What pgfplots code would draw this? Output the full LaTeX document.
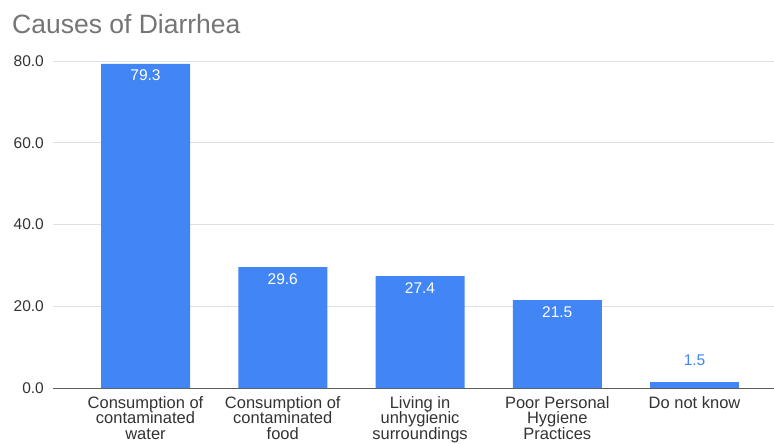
\documentclass[border=0pt]{standalone}
\usepackage{fontspec}
\setmainfont{Liberation Sans}
\usepackage{pgfplots}
\pgfplotsset{compat=1.18}
\definecolor{barblue}{HTML}{4285F4}
\definecolor{ticktext}{HTML}{333333}
\definecolor{titlegray}{HTML}{757575}
\definecolor{gridgray}{HTML}{E0E0E0}
\begin{document}
\begin{tikzpicture}
\path[use as bounding box] (-53bp,-56bp) rectangle (721bp,388bp);
\begin{axis}[
  at={(0,0)}, anchor=south west,
  scale only axis,
  width=721bp, height=327bp,
  xmin=-0.674, xmax=4.579,
  ymin=0, ymax=80,
  ybar, bar width=89bp, bar shift=0pt,
  axis line style={draw=none},
  major tick length=0pt,
  xtick={0,1,2,3,4},
  xticklabels={{Consumption of\\contaminated\\water},{Consumption of\\contaminated\\food},{Living in\\unhygienic\\surroundings},{Poor Personal\\Hygiene\\Practices},{Do not know}},
  xticklabel style={anchor=north, yshift=-8bp, inner sep=0pt, align=center, text=ticktext,
    font=\fontsize{16.5bp}{15.5bp}\selectfont},
  ytick={0,20,40,60,80},
  yticklabel style={anchor=east, xshift=-9bp, inner sep=0pt, text=ticktext,
    font=\fontsize{15.5bp}{18bp}\selectfont},
  /pgf/number format/assume math mode=true,
  yticklabel={\pgfmathprintnumber[fixed,fixed zerofill,precision=1]{\tick}},
  ymajorgrids, grid style={draw=gridgray, line width=0.8pt},
  extra y ticks={0}, extra y tick labels={},
  extra y tick style={grid style={draw=ticktext!80, line width=1pt}},
  clip=false,
]
\addplot[fill=barblue, draw=none,
  nodes near coords={\pgfmathprintnumber[fixed,fixed zerofill,precision=1]{\pgfplotspointmeta}},
  every node near coord/.append style={anchor=north, yshift=-6bp, inner sep=0pt, text=white,
    font=\fontsize{15.5bp}{18bp}\selectfont, /pgf/number format/assume math mode=true}]
  coordinates {(0,79.3) (1,29.6) (2,27.4) (3,21.5)};
\addplot[fill=barblue, draw=none,
  nodes near coords={\pgfmathprintnumber[fixed,fixed zerofill,precision=1]{\pgfplotspointmeta}},
  every node near coord/.append style={anchor=south, yshift=16bp, inner sep=0pt, text=barblue,
    font=\fontsize{15.5bp}{18bp}\selectfont, /pgf/number format/assume math mode=true}]
  coordinates {(4,1.5)};
\end{axis}
\node[anchor=base west, inner sep=0pt, text=titlegray, font=\fontsize{26.5bp}{30bp}\selectfont] at (-41bp,354bp) {Causes of Diarrhea};
\end{tikzpicture}
\end{document}
